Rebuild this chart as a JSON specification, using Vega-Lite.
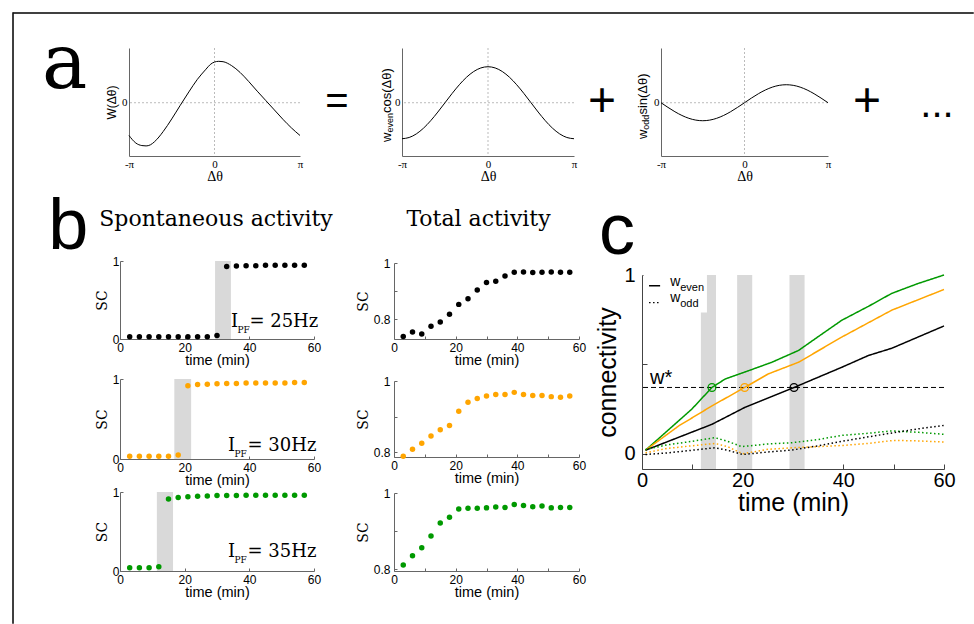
{
"$schema": "https://vega.github.io/schema/vega-lite/v6.json",
"background": "white",
"padding": {"left": 12, "top": 12, "right": 0, "bottom": 0},
"config": {
  "view": {"stroke": null},
  "axis": {"grid": false, "labelFont": "Liberation Sans", "titleFont": "Liberation Sans", "titleFontWeight": "normal", "labelColor": "black", "titleColor": "black", "labelFlush": false, "labelOverlap": false},
  "text": {"font": "Liberation Sans", "color": "black"},
  "point": {"opacity": 1}
},
"spacing": 0,
"bounds": "flush",
"hconcat": [
  {"width": 0.01, "height": 610, "view": {"stroke": "black", "strokeWidth": 1.5}, "data": {"values": []}, "mark": "point"},
  {"spacing": 0, "bounds": "flush", "vconcat": [
    {"width": 959, "height": 0.01, "view": {"stroke": "black", "strokeWidth": 1.5}, "data": {"values": []}, "mark": "point"},
    {"width": 0.01, "height": 33.24, "data": {"values": []}, "mark": "point"},
    {"spacing": 0, "bounds": "flush", "hconcat": [
      {"width": 114.25, "height": 108, "data": {"values": [{"s": "a"}]}, "mark": {"type": "text", "font": "DejaVu Serif", "fontSize": 76, "align": "center", "baseline": "alphabetic", "dx": -6.4, "dy": -14}, "encoding": {"text": {"field": "s"}}},
      {"width": 171, "height": 108, "layer": [
        {"data": {"values": [{"w": 0}]}, "mark": {"type": "rule", "color": "#bbbbbb", "strokeDash": [2, 2], "strokeWidth": 1}, "encoding": {"y": {"field": "w", "type": "quantitative"}}},
        {"data": {"values": [{"t": 0}]}, "mark": {"type": "rule", "color": "#bbbbbb", "strokeDash": [2, 2], "strokeWidth": 1}, "encoding": {"x": {"field": "t", "type": "quantitative"}}},
        {"data": {"values": [
          {"t": -1, "w": -0.91}, {"t": -0.92, "w": -1.12}, {"t": -0.85, "w": -1.19}, {"t": -0.8, "w": -1.2}, {"t": -0.75, "w": -1.17}, {"t": -0.7, "w": -1.08}, {"t": -0.6, "w": -0.8}, {"t": -0.5, "w": -0.45}, {"t": -0.4, "w": -0.07}, {"t": -0.3, "w": 0.3}, {"t": -0.2, "w": 0.65}, {"t": -0.1, "w": 0.93}, {"t": -0.05, "w": 1.06}, {"t": 0, "w": 1.13}, {"t": 0.05, "w": 1.15}, {"t": 0.1, "w": 1.14}, {"t": 0.2, "w": 1.03}, {"t": 0.3, "w": 0.84}, {"t": 0.4, "w": 0.59}, {"t": 0.5, "w": 0.32}, {"t": 0.6, "w": 0.06}, {"t": 0.7, "w": -0.2}, {"t": 0.8, "w": -0.46}, {"t": 0.9, "w": -0.7}, {"t": 1, "w": -0.91}]},
         "mark": {"type": "line", "color": "black", "strokeWidth": 1, "interpolate": "monotone"},
         "encoding": {
           "x": {"field": "t", "type": "quantitative", "scale": {"domain": [-1, 1], "nice": false, "zero": false}, "axis": {"values": [-1, 0, 1], "labelExpr": "datum.value < 0 ? '-π' : (datum.value > 0 ? 'π' : '0')", "ticks": false, "labelFont": "Liberation Serif", "labelFontSize": 11, "labelPadding": 2, "title": "Δθ", "titleFont": "Liberation Serif", "titleFontSize": 14, "titlePadding": 0, "domainColor": "#666"}},
           "y": {"field": "w", "type": "quantitative", "scale": {"domain": [-1.48, 1.52], "nice": false, "zero": false}, "axis": {"values": [0], "ticks": false, "labelFont": "Liberation Serif", "labelFontSize": 11, "labelPadding": 2, "title": "W(Δθ)", "titleFontSize": 12, "titlePadding": 3, "domainColor": "#666"}}
         }}
      ]},
      {"width": 102, "height": 108, "data": {"values": [{"s": "="}]}, "mark": {"type": "text", "fontSize": 40, "align": "center", "baseline": "middle", "dx": -14}, "encoding": {"text": {"field": "s"}}},
      {"width": 172, "height": 108, "layer": [
        {"data": {"values": [{"w": 0}]}, "mark": {"type": "rule", "color": "#bbbbbb", "strokeDash": [2, 2], "strokeWidth": 1}, "encoding": {"y": {"field": "w", "type": "quantitative"}}},
        {"data": {"values": [{"t": 0}]}, "mark": {"type": "rule", "color": "#bbbbbb", "strokeDash": [2, 2], "strokeWidth": 1}, "encoding": {"x": {"field": "t", "type": "quantitative"}}},
        {"data": {"values": [
          {"t": -1, "w": -1}, {"t": -0.9167, "w": -0.9659}, {"t": -0.8333, "w": -0.866}, {"t": -0.75, "w": -0.7071}, {"t": -0.6667, "w": -0.5}, {"t": -0.5833, "w": -0.2588}, {"t": -0.5, "w": 0}, {"t": -0.4167, "w": 0.2588}, {"t": -0.3333, "w": 0.5}, {"t": -0.25, "w": 0.7071}, {"t": -0.1667, "w": 0.866}, {"t": -0.0833, "w": 0.9659}, {"t": 0, "w": 1}, {"t": 0.0833, "w": 0.9659}, {"t": 0.1667, "w": 0.866}, {"t": 0.25, "w": 0.7071}, {"t": 0.3333, "w": 0.5}, {"t": 0.4167, "w": 0.2588}, {"t": 0.5, "w": 0}, {"t": 0.5833, "w": -0.2588}, {"t": 0.6667, "w": -0.5}, {"t": 0.75, "w": -0.7071}, {"t": 0.8333, "w": -0.866}, {"t": 0.9167, "w": -0.9659}, {"t": 1, "w": -1}]},
         "mark": {"type": "line", "color": "black", "strokeWidth": 1, "interpolate": "monotone"},
         "encoding": {
           "x": {"field": "t", "type": "quantitative", "scale": {"domain": [-1, 1], "nice": false, "zero": false}, "axis": {"values": [-1, 0, 1], "labelExpr": "datum.value < 0 ? '-π' : (datum.value > 0 ? 'π' : '0')", "ticks": false, "labelFont": "Liberation Serif", "labelFontSize": 11, "labelPadding": 2, "title": "Δθ", "titleFont": "Liberation Serif", "titleFontSize": 14, "titlePadding": 0, "domainColor": "#666"}},
           "y": {"field": "w", "type": "quantitative", "scale": {"domain": [-1.48, 1.52], "nice": false, "zero": false}, "axis": {"values": [0], "ticks": false, "labelFont": "Liberation Serif", "labelFontSize": 11, "labelPadding": 2, "title": null, "domainColor": "#666"}}
         }},
        {"data": {"values": [{"t": -1.17, "w": -1.09}]},
         "encoding": {"x": {"field": "t", "type": "quantitative"}, "y": {"field": "w", "type": "quantitative"}},
         "layer": [
           {"mark": {"type": "text", "text": "w", "fontSize": 13, "angle": 270, "align": "left", "baseline": "middle"}},
           {"mark": {"type": "text", "text": "even", "fontSize": 9, "angle": 270, "align": "left", "baseline": "middle", "dx": 9.4, "dy": 3}},
           {"mark": {"type": "text", "text": "cos(Δθ)", "fontSize": 13, "angle": 270, "align": "left", "baseline": "middle", "dx": 29}}
         ]}
      ]},
      {"width": 87, "height": 108, "data": {"values": [{"s": "+"}]}, "mark": {"type": "text", "fontSize": 48, "align": "center", "baseline": "middle", "dx": -15.5}, "encoding": {"text": {"field": "s"}}},
      {"width": 167, "height": 108, "layer": [
        {"data": {"values": [{"w": 0}]}, "mark": {"type": "rule", "color": "#bbbbbb", "strokeDash": [2, 2], "strokeWidth": 1}, "encoding": {"y": {"field": "w", "type": "quantitative"}}},
        {"data": {"values": [{"t": 0}]}, "mark": {"type": "rule", "color": "#bbbbbb", "strokeDash": [2, 2], "strokeWidth": 1}, "encoding": {"x": {"field": "t", "type": "quantitative"}}},
        {"data": {"values": [
          {"t": -1, "w": 0}, {"t": -0.9167, "w": -0.1294}, {"t": -0.8333, "w": -0.25}, {"t": -0.75, "w": -0.3536}, {"t": -0.6667, "w": -0.433}, {"t": -0.5833, "w": -0.483}, {"t": -0.5, "w": -0.5}, {"t": -0.4167, "w": -0.483}, {"t": -0.3333, "w": -0.433}, {"t": -0.25, "w": -0.3536}, {"t": -0.1667, "w": -0.25}, {"t": -0.0833, "w": -0.1294}, {"t": 0, "w": 0}, {"t": 0.0833, "w": 0.1294}, {"t": 0.1667, "w": 0.25}, {"t": 0.25, "w": 0.3536}, {"t": 0.3333, "w": 0.433}, {"t": 0.4167, "w": 0.483}, {"t": 0.5, "w": 0.5}, {"t": 0.5833, "w": 0.483}, {"t": 0.6667, "w": 0.433}, {"t": 0.75, "w": 0.3536}, {"t": 0.8333, "w": 0.25}, {"t": 0.9167, "w": 0.1294}, {"t": 1, "w": 0}]},
         "mark": {"type": "line", "color": "black", "strokeWidth": 1, "interpolate": "monotone"},
         "encoding": {
           "x": {"field": "t", "type": "quantitative", "scale": {"domain": [-1, 1], "nice": false, "zero": false}, "axis": {"values": [-1, 0, 1], "labelExpr": "datum.value < 0 ? '-π' : (datum.value > 0 ? 'π' : '0')", "ticks": false, "labelFont": "Liberation Serif", "labelFontSize": 11, "labelPadding": 2, "title": "Δθ", "titleFont": "Liberation Serif", "titleFontSize": 14, "titlePadding": 0, "domainColor": "#666"}},
           "y": {"field": "w", "type": "quantitative", "scale": {"domain": [-1.48, 1.52], "nice": false, "zero": false}, "axis": {"values": [0], "ticks": false, "labelFont": "Liberation Serif", "labelFontSize": 11, "labelPadding": 2, "title": null, "domainColor": "#666"}}
         }},
        {"data": {"values": [{"t": -1.216, "w": -1.01}]},
         "encoding": {"x": {"field": "t", "type": "quantitative"}, "y": {"field": "w", "type": "quantitative"}},
         "layer": [
           {"mark": {"type": "text", "text": "w", "fontSize": 13, "angle": 270, "align": "left", "baseline": "middle"}},
           {"mark": {"type": "text", "text": "odd", "fontSize": 9, "angle": 270, "align": "left", "baseline": "middle", "dx": 9.4, "dy": 3}},
           {"mark": {"type": "text", "text": "sin(Δθ)", "fontSize": 13, "angle": 270, "align": "left", "baseline": "middle", "dx": 24.5}}
         ]}
      ]},
      {"width": 140, "height": 108, "layer": [
        {"data": {"values": [{"s": "+"}]}, "mark": {"type": "text", "fontSize": 48, "align": "center", "baseline": "middle", "dx": -31}, "encoding": {"text": {"field": "s"}}},
        {"data": {"values": [{"s": "..."}]}, "mark": {"type": "text", "fontSize": 40, "align": "center", "baseline": "alphabetic", "dx": 39, "dy": 15}, "encoding": {"text": {"field": "s"}}}
      ]}
    ]},
    {"width": 0.01, "height": 144, "data": {"values": []}, "mark": "point"},
    {"spacing": 0, "bounds": "flush", "hconcat": [
      {"width": 105.25, "height": 70, "data": {"values": [{"s": "b"}]}, "mark": {"type": "text", "fontSize": 72, "align": "center", "baseline": "alphabetic", "dx": 1.6, "dy": 22}, "encoding": {"text": {"field": "s"}}},
      {"spacing": 0, "bounds": "flush", "vconcat": [
        {"width": 194, "height": 69, "data": {"values": [{"s": "Spontaneous activity"}]}, "mark": {"type": "text", "font": "DejaVu Serif", "fontSize": 22, "align": "center", "baseline": "alphabetic", "dx": -1, "dy": -0.5}, "encoding": {"text": {"field": "s"}}},
        {"width": 194, "height": 78, "layer": [
          {"data": {"values": [{"t": 29.4, "t2": 34.3}]}, "mark": {"type": "rect", "color": "#d9d9d9"}, "encoding": {"x": {"field": "t", "type": "quantitative"}, "x2": {"field": "t2"}, "y": {"datum": 0, "type": "quantitative"}, "y2": {"datum": 1}}},
          {"data": {"values": [{"t": 3, "v": 0.03}, {"t": 6, "v": 0.03}, {"t": 9, "v": 0.03}, {"t": 12, "v": 0.03}, {"t": 15, "v": 0.03}, {"t": 18, "v": 0.03}, {"t": 21, "v": 0.03}, {"t": 24, "v": 0.03}, {"t": 27, "v": 0.03}, {"t": 30, "v": 0.045}, {"t": 33, "v": 0.93}, {"t": 36, "v": 0.935}, {"t": 39, "v": 0.94}, {"t": 42, "v": 0.94}, {"t": 45, "v": 0.945}, {"t": 48, "v": 0.945}, {"t": 51, "v": 0.945}, {"t": 54, "v": 0.945}, {"t": 57, "v": 0.945}]},
           "mark": {"type": "point", "filled": true, "size": 30, "color": "black"},
           "encoding": {
             "x": {"field": "t", "type": "quantitative", "scale": {"domain": [0, 60], "nice": false}, "axis": {"values": [0, 10, 20, 30, 40, 50, 60], "labelExpr": "datum.value % 20 === 0 ? datum.label : ''", "tickSize": -3, "labelPadding": 6, "labelFontSize": 12, "title": "time (min)", "titleFontSize": 14.5, "titlePadding": 0, "domainColor": "#666", "tickColor": "#666"}},
             "y": {"field": "v", "type": "quantitative", "scale": {"domain": [0, 1], "nice": false}, "axis": {"values": [0, 0.5, 1], "labelExpr": "datum.value === 0 ? '0' : (datum.value === 1 ? '1' : '')", "tickSize": -3, "labelPadding": 4, "labelFontSize": 12, "title": "SC", "titleFont": "DejaVu Serif", "titleFontSize": 14, "titlePadding": 3, "domainColor": "#666", "tickColor": "#666"}}
           }},
          {"data": {"values": [{"t": 34.3, "v": 0.16}]},
           "encoding": {"x": {"field": "t", "type": "quantitative"}, "y": {"field": "v", "type": "quantitative"}},
           "layer": [
             {"mark": {"type": "text", "text": "I", "font": "DejaVu Serif", "fontSize": 18, "align": "left", "baseline": "alphabetic"}},
             {"mark": {"type": "text", "text": "PF", "font": "DejaVu Serif", "fontSize": 9, "align": "left", "baseline": "alphabetic", "dx": 6.5, "dy": 6}},
             {"mark": {"type": "text", "text": "= 25Hz", "font": "DejaVu Serif", "fontSize": 18, "align": "left", "baseline": "alphabetic", "dx": 18.5}}
           ]}
        ]},
        {"width": 0.01, "height": 40, "data": {"values": []}, "mark": "point"},
        {"width": 194, "height": 80, "layer": [
          {"data": {"values": [{"t": 16.8, "t2": 22.0}]}, "mark": {"type": "rect", "color": "#d9d9d9"}, "encoding": {"x": {"field": "t", "type": "quantitative"}, "x2": {"field": "t2"}, "y": {"datum": 0, "type": "quantitative"}, "y2": {"datum": 1}}},
          {"data": {"values": [{"t": 3, "v": 0.035}, {"t": 6, "v": 0.035}, {"t": 9, "v": 0.035}, {"t": 12, "v": 0.035}, {"t": 15, "v": 0.035}, {"t": 18, "v": 0.05}, {"t": 21, "v": 0.915}, {"t": 24, "v": 0.93}, {"t": 27, "v": 0.935}, {"t": 30, "v": 0.94}, {"t": 33, "v": 0.945}, {"t": 36, "v": 0.945}, {"t": 39, "v": 0.95}, {"t": 42, "v": 0.95}, {"t": 45, "v": 0.95}, {"t": 48, "v": 0.95}, {"t": 51, "v": 0.95}, {"t": 54, "v": 0.955}, {"t": 57, "v": 0.955}]},
           "mark": {"type": "point", "filled": true, "size": 30, "color": "#ffa500"},
           "encoding": {
             "x": {"field": "t", "type": "quantitative", "scale": {"domain": [0, 60], "nice": false}, "axis": {"values": [0, 10, 20, 30, 40, 50, 60], "labelExpr": "datum.value % 20 === 0 ? datum.label : ''", "tickSize": -3, "labelPadding": 6, "labelFontSize": 12, "title": "time (min)", "titleFontSize": 14.5, "titlePadding": 0, "domainColor": "#666", "tickColor": "#666"}},
             "y": {"field": "v", "type": "quantitative", "scale": {"domain": [0, 1], "nice": false}, "axis": {"values": [0, 0.5, 1], "labelExpr": "datum.value === 0 ? '0' : (datum.value === 1 ? '1' : '')", "tickSize": -3, "labelPadding": 4, "labelFontSize": 12, "title": "SC", "titleFont": "DejaVu Serif", "titleFontSize": 14, "titlePadding": 3, "domainColor": "#666", "tickColor": "#666"}}
           }},
          {"data": {"values": [{"t": 33.4, "v": 0.1}]},
           "encoding": {"x": {"field": "t", "type": "quantitative"}, "y": {"field": "v", "type": "quantitative"}},
           "layer": [
             {"mark": {"type": "text", "text": "I", "font": "DejaVu Serif", "fontSize": 18, "align": "left", "baseline": "alphabetic"}},
             {"mark": {"type": "text", "text": "PF", "font": "DejaVu Serif", "fontSize": 9, "align": "left", "baseline": "alphabetic", "dx": 6.5, "dy": 6}},
             {"mark": {"type": "text", "text": "= 30Hz", "font": "DejaVu Serif", "fontSize": 18, "align": "left", "baseline": "alphabetic", "dx": 19.5}}
           ]}
        ]},
        {"width": 0.01, "height": 33, "data": {"values": []}, "mark": "point"},
        {"width": 194, "height": 79, "layer": [
          {"data": {"values": [{"t": 11.4, "t2": 16.4}]}, "mark": {"type": "rect", "color": "#d9d9d9"}, "encoding": {"x": {"field": "t", "type": "quantitative"}, "x2": {"field": "t2"}, "y": {"datum": 0, "type": "quantitative"}, "y2": {"datum": 1}}},
          {"data": {"values": [{"t": 3, "v": 0.04}, {"t": 6, "v": 0.04}, {"t": 9, "v": 0.04}, {"t": 12, "v": 0.055}, {"t": 15, "v": 0.91}, {"t": 18, "v": 0.93}, {"t": 21, "v": 0.94}, {"t": 24, "v": 0.945}, {"t": 27, "v": 0.95}, {"t": 30, "v": 0.955}, {"t": 33, "v": 0.955}, {"t": 36, "v": 0.955}, {"t": 39, "v": 0.96}, {"t": 42, "v": 0.96}, {"t": 45, "v": 0.96}, {"t": 48, "v": 0.96}, {"t": 51, "v": 0.96}, {"t": 54, "v": 0.96}, {"t": 57, "v": 0.96}]},
           "mark": {"type": "point", "filled": true, "size": 30, "color": "#009900"},
           "encoding": {
             "x": {"field": "t", "type": "quantitative", "scale": {"domain": [0, 60], "nice": false}, "axis": {"values": [0, 10, 20, 30, 40, 50, 60], "labelExpr": "datum.value % 20 === 0 ? datum.label : ''", "tickSize": -3, "labelPadding": 6, "labelFontSize": 12, "title": "time (min)", "titleFontSize": 14.5, "titlePadding": 0, "domainColor": "#666", "tickColor": "#666"}},
             "y": {"field": "v", "type": "quantitative", "scale": {"domain": [0, 1], "nice": false}, "axis": {"values": [0, 0.5, 1], "labelExpr": "datum.value === 0 ? '0' : (datum.value === 1 ? '1' : '')", "tickSize": -3, "labelPadding": 4, "labelFontSize": 12, "title": "SC", "titleFont": "DejaVu Serif", "titleFontSize": 14, "titlePadding": 3, "domainColor": "#666", "tickColor": "#666"}}
           }},
          {"data": {"values": [{"t": 33.4, "v": 0.18}]},
           "encoding": {"x": {"field": "t", "type": "quantitative"}, "y": {"field": "v", "type": "quantitative"}},
           "layer": [
             {"mark": {"type": "text", "text": "I", "font": "DejaVu Serif", "fontSize": 18, "align": "left", "baseline": "alphabetic"}},
             {"mark": {"type": "text", "text": "PF", "font": "DejaVu Serif", "fontSize": 9, "align": "left", "baseline": "alphabetic", "dx": 6.5, "dy": 6}},
             {"mark": {"type": "text", "text": "= 35Hz", "font": "DejaVu Serif", "fontSize": 18, "align": "left", "baseline": "alphabetic", "dx": 19.5}}
           ]}
        ]}
      ]},
      {"width": 274, "height": 0.01, "data": {"values": []}, "mark": "point"},
      {"spacing": 0, "bounds": "flush", "vconcat": [
        {"width": 185, "height": 71, "data": {"values": [{"s": "Total activity"}]}, "mark": {"type": "text", "font": "DejaVu Serif", "fontSize": 22, "align": "center", "baseline": "alphabetic", "dx": -8, "dy": -1.5}, "encoding": {"text": {"field": "s"}}},
        {"width": 185, "height": 76, "data": {"values": [{"t": 3, "v": 0.739}, {"t": 6, "v": 0.755}, {"t": 9, "v": 0.748}, {"t": 12, "v": 0.775}, {"t": 15, "v": 0.79}, {"t": 18, "v": 0.818}, {"t": 21, "v": 0.853}, {"t": 24, "v": 0.873}, {"t": 27, "v": 0.904}, {"t": 30, "v": 0.931}, {"t": 33, "v": 0.935}, {"t": 36, "v": 0.954}, {"t": 39, "v": 0.967}, {"t": 42, "v": 0.968}, {"t": 45, "v": 0.966}, {"t": 48, "v": 0.967}, {"t": 51, "v": 0.968}, {"t": 54, "v": 0.967}, {"t": 57, "v": 0.967}]},
         "mark": {"type": "point", "filled": true, "size": 30, "color": "black"},
         "encoding": {
           "x": {"field": "t", "type": "quantitative", "scale": {"domain": [0, 60], "nice": false}, "axis": {"values": [0, 10, 20, 30, 40, 50, 60], "labelExpr": "datum.value % 20 === 0 ? datum.label : ''", "tickSize": -3, "labelPadding": 6, "labelFontSize": 12, "title": "time (min)", "titleFontSize": 14.5, "titlePadding": 0, "domainColor": "#666", "tickColor": "#666"}},
           "y": {"field": "v", "type": "quantitative", "scale": {"domain": [0.73, 1], "nice": false, "zero": false}, "axis": {"values": [0.8, 0.9, 1], "labelExpr": "datum.value === 1 ? '1' : (datum.value < 0.85 ? '0.8' : '')", "tickSize": -3, "labelPadding": 7, "labelFontSize": 12, "title": "SC", "titleFont": "DejaVu Serif", "titleFontSize": 14, "titlePadding": 3, "domainColor": "#666", "tickColor": "#666"}}
         }},
        {"width": 0.01, "height": 42, "data": {"values": []}, "mark": "point"},
        {"width": 185, "height": 76, "data": {"values": [{"t": 3, "v": 0.788}, {"t": 6, "v": 0.808}, {"t": 9, "v": 0.825}, {"t": 12, "v": 0.845}, {"t": 15, "v": 0.863}, {"t": 18, "v": 0.875}, {"t": 21, "v": 0.915}, {"t": 24, "v": 0.94}, {"t": 27, "v": 0.951}, {"t": 30, "v": 0.958}, {"t": 33, "v": 0.962}, {"t": 36, "v": 0.962}, {"t": 39, "v": 0.968}, {"t": 42, "v": 0.962}, {"t": 45, "v": 0.959}, {"t": 48, "v": 0.959}, {"t": 51, "v": 0.956}, {"t": 54, "v": 0.954}, {"t": 57, "v": 0.958}]},
         "mark": {"type": "point", "filled": true, "size": 30, "color": "#ffa500"},
         "encoding": {
           "x": {"field": "t", "type": "quantitative", "scale": {"domain": [0, 60], "nice": false}, "axis": {"values": [0, 10, 20, 30, 40, 50, 60], "labelExpr": "datum.value % 20 === 0 ? datum.label : ''", "tickSize": -3, "labelPadding": 6, "labelFontSize": 12, "title": "time (min)", "titleFontSize": 14.5, "titlePadding": 0, "domainColor": "#666", "tickColor": "#666"}},
           "y": {"field": "v", "type": "quantitative", "scale": {"domain": [0.786, 1], "nice": false, "zero": false}, "axis": {"values": [0.8, 0.9, 1], "labelExpr": "datum.value === 1 ? '1' : (datum.value < 0.85 ? '0.8' : '')", "tickSize": -3, "labelPadding": 7, "labelFontSize": 12, "title": "SC", "titleFont": "DejaVu Serif", "titleFontSize": 14, "titlePadding": 3, "domainColor": "#666", "tickColor": "#666"}}
         }},
        {"width": 0.01, "height": 36, "data": {"values": []}, "mark": "point"},
        {"width": 185, "height": 78, "data": {"values": [{"t": 3, "v": 0.811}, {"t": 6, "v": 0.835}, {"t": 9, "v": 0.856}, {"t": 12, "v": 0.887}, {"t": 15, "v": 0.921}, {"t": 18, "v": 0.936}, {"t": 21, "v": 0.958}, {"t": 24, "v": 0.96}, {"t": 27, "v": 0.96}, {"t": 30, "v": 0.961}, {"t": 33, "v": 0.963}, {"t": 36, "v": 0.962}, {"t": 39, "v": 0.97}, {"t": 42, "v": 0.967}, {"t": 45, "v": 0.964}, {"t": 48, "v": 0.966}, {"t": 51, "v": 0.961}, {"t": 54, "v": 0.962}, {"t": 57, "v": 0.962}]},
         "mark": {"type": "point", "filled": true, "size": 30, "color": "#009900"},
         "encoding": {
           "x": {"field": "t", "type": "quantitative", "scale": {"domain": [0, 60], "nice": false}, "axis": {"values": [0, 10, 20, 30, 40, 50, 60], "labelExpr": "datum.value % 20 === 0 ? datum.label : ''", "tickSize": -3, "labelPadding": 6, "labelFontSize": 12, "title": "time (min)", "titleFontSize": 14.5, "titlePadding": 0, "domainColor": "#666", "tickColor": "#666"}},
           "y": {"field": "v", "type": "quantitative", "scale": {"domain": [0.795, 1], "nice": false, "zero": false}, "axis": {"values": [0.8, 0.9, 1], "labelExpr": "datum.value === 1 ? '1' : (datum.value < 0.85 ? '0.8' : '')", "tickSize": -3, "labelPadding": 7, "labelFontSize": 12, "title": "SC", "titleFont": "DejaVu Serif", "titleFontSize": 14, "titlePadding": 3, "domainColor": "#666", "tickColor": "#666"}}
         }}
      ]},
      {"width": 248, "height": 0.01, "data": {"values": []}, "mark": "point"},
      {"spacing": 0, "bounds": "flush", "vconcat": [
        {"width": 302, "height": 83, "data": {"values": [{"s": "c"}]}, "mark": {"type": "text", "fontSize": 72, "align": "center", "baseline": "alphabetic", "dx": -176, "dy": 20.5}, "encoding": {"text": {"field": "s"}}},
        {"width": 302, "height": 194, "layer": [
          {"data": {"values": [{"t": 11.7, "t2": 14.7}, {"t": 18.9, "t2": 21.9}, {"t": 29.3, "t2": 32.3}]}, "mark": {"type": "rect", "color": "#d9d9d9"}, "encoding": {"x": {"field": "t", "type": "quantitative"}, "x2": {"field": "t2"}, "y": {"datum": -0.085, "type": "quantitative"}, "y2": {"datum": 1}}},
          {"data": {"values": [{}]}, "mark": {"type": "rect", "color": "white"}, "encoding": {"x": {"datum": 0.3, "type": "quantitative"}, "x2": {"datum": 12.9}, "y": {"datum": 0.79, "type": "quantitative"}, "y2": {"datum": 1}}},
          {"data": {"values": [{"v": 0.371}]}, "mark": {"type": "rule", "color": "black", "strokeDash": [5, 3], "strokeWidth": 1}, "encoding": {"y": {"field": "v", "type": "quantitative"}}},
          {"data": {"values": [
            {"s": "g", "k": "even", "t": 0.7, "v": 0.02}, {"s": "g", "k": "even", "t": 4.3, "v": 0.11}, {"s": "g", "k": "even", "t": 9.9, "v": 0.25}, {"s": "g", "k": "even", "t": 13.9, "v": 0.371}, {"s": "g", "k": "even", "t": 16.5, "v": 0.418}, {"s": "g", "k": "even", "t": 21.2, "v": 0.465}, {"s": "g", "k": "even", "t": 25.8, "v": 0.512}, {"s": "g", "k": "even", "t": 31.1, "v": 0.578}, {"s": "g", "k": "even", "t": 35, "v": 0.655}, {"s": "g", "k": "even", "t": 39.7, "v": 0.747}, {"s": "g", "k": "even", "t": 45, "v": 0.825}, {"s": "g", "k": "even", "t": 49.6, "v": 0.897}, {"s": "g", "k": "even", "t": 54.9, "v": 0.953}, {"s": "g", "k": "even", "t": 60, "v": 1.0},
            {"s": "o", "k": "even", "t": 0.7, "v": 0.02}, {"s": "o", "k": "even", "t": 7.3, "v": 0.156}, {"s": "o", "k": "even", "t": 13.9, "v": 0.268}, {"s": "o", "k": "even", "t": 20.4, "v": 0.371}, {"s": "o", "k": "even", "t": 25.1, "v": 0.447}, {"s": "o", "k": "even", "t": 31.1, "v": 0.512}, {"s": "o", "k": "even", "t": 39.7, "v": 0.653}, {"s": "o", "k": "even", "t": 49.6, "v": 0.803}, {"s": "o", "k": "even", "t": 60, "v": 0.919},
            {"s": "k", "k": "even", "t": 0.7, "v": 0.02}, {"s": "k", "k": "even", "t": 13.9, "v": 0.165}, {"s": "k", "k": "even", "t": 20.4, "v": 0.259}, {"s": "k", "k": "even", "t": 30.2, "v": 0.371}, {"s": "k", "k": "even", "t": 39.7, "v": 0.484}, {"s": "k", "k": "even", "t": 45, "v": 0.55}, {"s": "k", "k": "even", "t": 49.6, "v": 0.59}, {"s": "k", "k": "even", "t": 60, "v": 0.715},
            {"s": "g", "k": "odd", "t": 0.7, "v": 0.024}, {"s": "g", "k": "odd", "t": 5, "v": 0.05}, {"s": "g", "k": "odd", "t": 10, "v": 0.07}, {"s": "g", "k": "odd", "t": 14.5, "v": 0.09}, {"s": "g", "k": "odd", "t": 17, "v": 0.07}, {"s": "g", "k": "odd", "t": 19.8, "v": 0.04}, {"s": "g", "k": "odd", "t": 25, "v": 0.055}, {"s": "g", "k": "odd", "t": 29.8, "v": 0.062}, {"s": "g", "k": "odd", "t": 35, "v": 0.08}, {"s": "g", "k": "odd", "t": 39.7, "v": 0.103}, {"s": "g", "k": "odd", "t": 45, "v": 0.115}, {"s": "g", "k": "odd", "t": 49.6, "v": 0.128}, {"s": "g", "k": "odd", "t": 55, "v": 0.12}, {"s": "g", "k": "odd", "t": 60, "v": 0.109},
            {"s": "o", "k": "odd", "t": 0.7, "v": 0.006}, {"s": "o", "k": "odd", "t": 5, "v": 0.03}, {"s": "o", "k": "odd", "t": 10, "v": 0.045}, {"s": "o", "k": "odd", "t": 14.5, "v": 0.058}, {"s": "o", "k": "odd", "t": 17, "v": 0.04}, {"s": "o", "k": "odd", "t": 20, "v": 0.0}, {"s": "o", "k": "odd", "t": 25, "v": 0.025}, {"s": "o", "k": "odd", "t": 30, "v": 0.034}, {"s": "o", "k": "odd", "t": 35, "v": 0.04}, {"s": "o", "k": "odd", "t": 40, "v": 0.047}, {"s": "o", "k": "odd", "t": 45, "v": 0.058}, {"s": "o", "k": "odd", "t": 50, "v": 0.075}, {"s": "o", "k": "odd", "t": 55, "v": 0.072}, {"s": "o", "k": "odd", "t": 60, "v": 0.066},
            {"s": "k", "k": "odd", "t": 0.7, "v": -0.004}, {"s": "k", "k": "odd", "t": 5, "v": 0.005}, {"s": "k", "k": "odd", "t": 10, "v": 0.02}, {"s": "k", "k": "odd", "t": 14.5, "v": 0.034}, {"s": "k", "k": "odd", "t": 17, "v": 0.02}, {"s": "k", "k": "odd", "t": 20, "v": -0.004}, {"s": "k", "k": "odd", "t": 25, "v": 0.01}, {"s": "k", "k": "odd", "t": 29.8, "v": 0.021}, {"s": "k", "k": "odd", "t": 35, "v": 0.045}, {"s": "k", "k": "odd", "t": 40, "v": 0.071}, {"s": "k", "k": "odd", "t": 45, "v": 0.095}, {"s": "k", "k": "odd", "t": 50, "v": 0.118}, {"s": "k", "k": "odd", "t": 55, "v": 0.14}, {"s": "k", "k": "odd", "t": 60, "v": 0.159}]},
           "mark": {"type": "line", "strokeWidth": 1.5},
           "encoding": {
             "x": {"field": "t", "type": "quantitative", "scale": {"domain": [0, 60], "nice": false}, "axis": {"values": [0, 10, 20, 30, 40, 50, 60], "labelExpr": "datum.value % 20 === 0 ? datum.label : ''", "tickSize": -5, "labelPadding": 6, "labelFontSize": 20, "title": "time (min)", "titleFontSize": 25, "titlePadding": 0, "domainColor": "#444", "tickColor": "#444"}},
             "y": {"field": "v", "type": "quantitative", "scale": {"domain": [-0.085, 1], "nice": false, "zero": false}, "axis": {"values": [0, 0.5, 1], "labelExpr": "datum.value === 0 ? '0' : (datum.value === 1 ? '1' : '')", "tickSize": -5, "labelPadding": 12, "labelFontSize": 20, "title": "connectivity", "titleFontSize": 25, "titlePadding": 3, "domainColor": "#444", "tickColor": "#444"}},
             "color": {"field": "s", "type": "nominal", "scale": {"domain": ["k", "o", "g"], "range": ["black", "#ffa500", "#009900"]}, "legend": null},
             "strokeDash": {"field": "k", "type": "nominal", "scale": {"domain": ["even", "odd"], "range": [[1, 0], [1.5, 2.5]]}, "legend": null}
           }},
          {"data": {"values": [{"t": 13.9, "v": 0.371, "s": "g"}, {"t": 20.4, "v": 0.371, "s": "o"}, {"t": 30.2, "v": 0.371, "s": "k"}]},
           "mark": {"type": "point", "filled": false, "size": 60, "strokeWidth": 1.3},
           "encoding": {"x": {"field": "t", "type": "quantitative"}, "y": {"field": "v", "type": "quantitative"}, "color": {"field": "s", "type": "nominal", "legend": null}}},
          {"data": {"values": [{"t": 1.4, "t2": 3.6, "v": 0.94, "k": "even"}, {"t": 1.4, "t2": 3.6, "v": 0.845, "k": "odd"}]},
           "mark": {"type": "rule", "color": "black", "strokeWidth": 1.3},
           "encoding": {"x": {"field": "t", "type": "quantitative"}, "x2": {"field": "t2"}, "y": {"field": "v", "type": "quantitative"}, "strokeDash": {"field": "k", "type": "nominal", "legend": null}}},
          {"data": {"values": [{"t": 5.6, "v": 0.94, "sub": "even"}, {"t": 5.6, "v": 0.85, "sub": "odd"}]},
           "encoding": {"x": {"field": "t", "type": "quantitative"}, "y": {"field": "v", "type": "quantitative"}},
           "layer": [
             {"mark": {"type": "text", "text": "w", "fontSize": 14, "align": "left", "baseline": "alphabetic"}},
             {"mark": {"type": "text", "fontSize": 11, "align": "left", "baseline": "alphabetic", "dx": 10, "dy": 5}, "encoding": {"text": {"field": "sub"}}}
           ]},
          {"data": {"values": [{"t": 1.6, "v": 0.393, "s": "w*"}]},
           "mark": {"type": "text", "fontSize": 20, "align": "left", "baseline": "alphabetic"},
           "encoding": {"x": {"field": "t", "type": "quantitative"}, "y": {"field": "v", "type": "quantitative"}, "text": {"field": "s"}}}
        ]}
      ]}
    ]}
  ]}
]
}
